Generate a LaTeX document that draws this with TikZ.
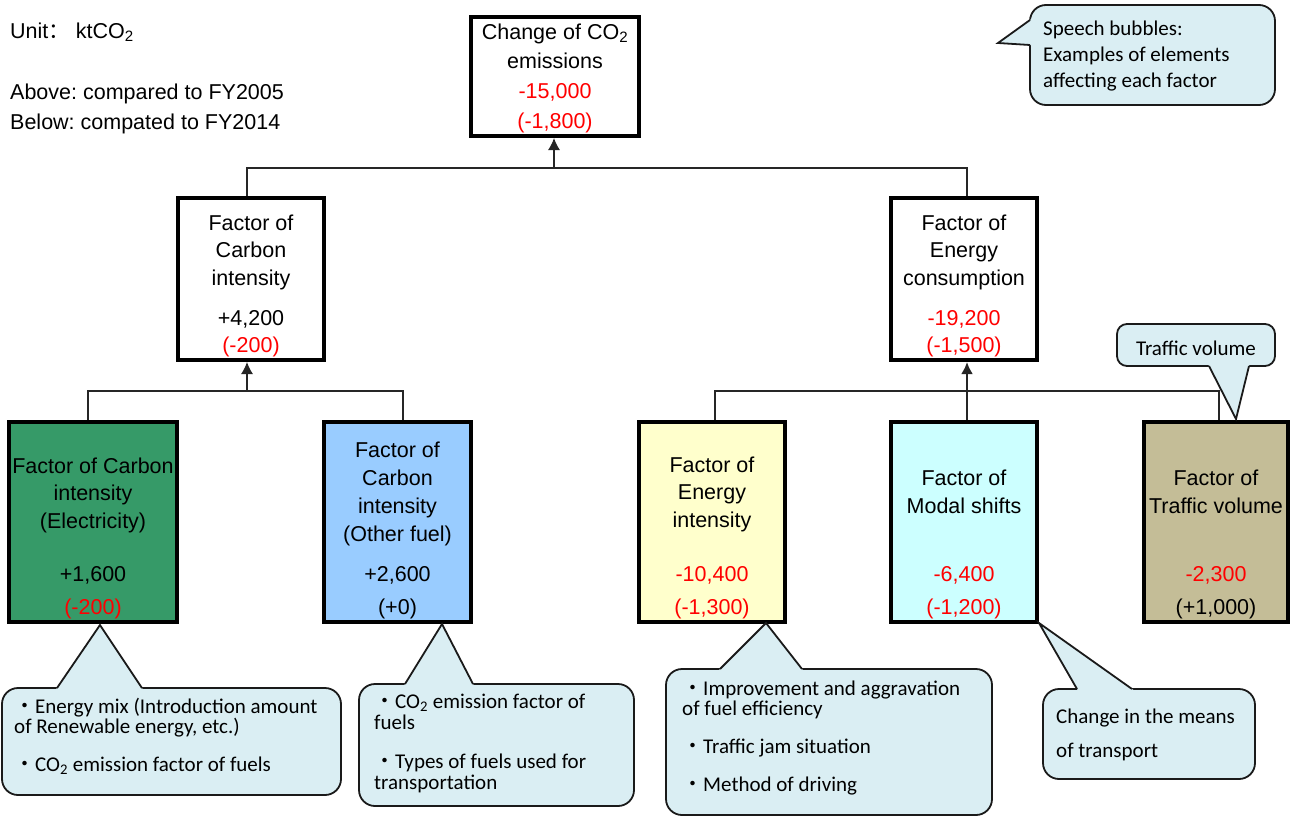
\documentclass[tikz,border=0pt]{standalone}
\usepackage{fontspec}
\setmainfont{Liberation Sans}
\newfontfamily\bub{Carlito}
\newfontfamily\cjk{Noto Sans CJK SC}
\usetikzlibrary{arrows.meta,calc}
\definecolor{cgreen}{HTML}{369A68}
\definecolor{cblue}{HTML}{99CCFF}
\definecolor{cyellow}{HTML}{FFFFCC}
\definecolor{ccyan}{HTML}{CCFFFF}
\definecolor{ctan}{HTML}{C4BD97}
\definecolor{bfillc}{HTML}{DAEEF3}
\definecolor{blinec}{HTML}{1A1A1A}
\newcommand\dotj{{\cjk ・}}
\frenchspacing
\begin{document}
\begin{tikzpicture}[x=1pt,y=-1pt,
  fbox/.style={draw=black, line width=4pt, fill=white},
  ttxt/.style={align=center, inner sep=0pt, anchor=north},
  conn/.style={draw=black!85, line width=1.3pt},
  arr/.style={conn, -{Latex[length=12pt,width=12pt]}},
  bubble/.style={draw=blinec, line width=1.8pt, fill=bfillc, rounded corners=16pt},
  bfill/.style={fill=bfillc},
  bline/.style={draw=blinec, line width=1.8pt, line join=miter},
  btxt/.style={align=left, inner sep=0pt, anchor=north west},
  lbl/.style={anchor=base west, inner sep=0pt, font=\fontsize{21.5}{27.5}\selectfont}
]
\useasboundingbox (0,0) rectangle (1292,816);
\fill[white] (0,0) rectangle (1292,816);

% ---------- legend texts ----------
\node[lbl] (unit) at (10,38) {Unit{\cjk ：} ktCO\textsubscript{2}};
\node[lbl] (above) at (10,99) {Above: compared to FY2005};
\node[lbl] (below) at (10,129) {Below: compated to FY2014};

% ---------- boxes ----------
\node[fbox, minimum width=168pt, minimum height=119pt] (top) at (555,76.5) {};
\node[fbox, minimum width=146pt, minimum height=162pt] (ci) at (251,279) {};
\node[fbox, minimum width=146pt, minimum height=162pt] (ec) at (964,279) {};
\node[fbox, fill=cgreen, minimum width=168pt, minimum height=200pt] (el) at (93,522) {};
\node[fbox, fill=cblue, minimum width=147pt, minimum height=200pt] (of) at (397.5,522) {};
\node[fbox, fill=cyellow, minimum width=146pt, minimum height=200pt] (ei) at (712,522) {};
\node[fbox, fill=ccyan, minimum width=146pt, minimum height=200pt] (ms) at (964,522) {};
\node[fbox, fill=ctan, minimum width=144pt, minimum height=200pt] (tv) at (1216,522) {};

% ---------- box texts ----------
\node[ttxt, font=\fontsize{21.5}{29.7}\selectfont] (topt) at (555,22)
  {\rule{0pt}{17pt}Change of CO\textsubscript{2}\\emissions\\\textcolor{red}{-15,000}\\\textcolor{red}{(-1,800)}};
\node[ttxt, font=\fontsize{21.5}{27.5}\selectfont] (cit) at (251,213)
  {\rule{0pt}{17pt}Factor of\\Carbon\\intensity\\[12.5pt]+4,200\\\textcolor{red}{(-200)}};
\node[ttxt, font=\fontsize{21.5}{27.5}\selectfont] (ect) at (964,213)
  {\rule{0pt}{17pt}Factor of\\Energy\\consumption\\[12.5pt]\textcolor{red}{-19,200}\\\textcolor{red}{(-1,500)}};
\node[ttxt, font=\fontsize{21.5}{27.5}\selectfont] (elt) at (93,456)
  {\rule{0pt}{17pt}Factor of Carbon\\intensity\\(Electricity)\\[25.5pt]+1,600\\[5.5pt]\textcolor{red}{(-200)}};
\node[ttxt, font=\fontsize{21.5}{28}\selectfont] (oft) at (397.5,440)
  {\rule{0pt}{17pt}Factor of\\Carbon\\intensity\\(Other fuel)\\[12pt]+2,600\\[5pt](+0)};
\node[ttxt, font=\fontsize{21.5}{27.5}\selectfont] (eit) at (712,455)
  {\rule{0pt}{17pt}Factor of\\Energy\\intensity\\[26.5pt]\textcolor{red}{-10,400}\\[5.5pt]\textcolor{red}{(-1,300)}};
\node[ttxt, font=\fontsize{21.5}{28}\selectfont] (mst) at (964,468)
  {\rule{0pt}{17pt}Factor of\\Modal shifts\\[40pt]\textcolor{red}{-6,400}\\[5pt]\textcolor{red}{(-1,200)}};
\node[ttxt, font=\fontsize{21.5}{28}\selectfont] (tvt) at (1216,468)
  {\rule{0pt}{17pt}Factor of\\Traffic volume\\[40pt]\textcolor{red}{-2,300}\\[5pt](+1,000)};

% ---------- connectors ----------
\coordinate (h1) at (554,168);
\coordinate (h2) at (247,391);
\coordinate (h3) at (967,391);
\draw[conn] ([xshift=-4pt]ci.north) |- (h1) -| ([xshift=3pt]ec.north);
\draw[arr] (h1) -- (h1 |- top.south);
\draw[conn] ([xshift=-5pt]el.north) |- (h2) -| ([xshift=5.5pt]of.north);
\draw[arr] (h2) -- (h2 |- ci.south);
\draw[conn] ([xshift=3pt]ei.north) |- (h3) -| ([xshift=3pt]tv.north);
\draw[conn] ([xshift=3pt]ms.north) -- (h3);
\draw[arr, line width=2.6pt] (h3) -- (h3 |- ec.south);

% ---------- speech bubbles ----------
% legend bubble
\node[bubble] [minimum width=245pt, minimum height=100pt] (lgb) at (1152.5,55) {};
\coordinate (lgt) at (998,43); \coordinate (lg1) at (1030,20); \coordinate (lg2) at (1030,45);
\fill[bfill] ($(lgt)!1.08!(lg1)$) -- (lgt) -- ($(lgt)!1.08!(lg2)$) -- cycle;
\draw[bline] (lg1) -- (lgt) -- (lg2);
\node[btxt, font=\bub\fontsize{21}{26}\selectfont] (lgbt) at (1043,18)
  {\rule{0pt}{17pt}Speech bubbles:\\Examples of elements\\affecting each factor};

% traffic volume bubble
\node[bubble, rounded corners=10pt] [minimum width=158pt, minimum height=42pt] (tvb) at (1196,345) {};
\coordinate (tvbt) at (1236,419); \coordinate (tvb1) at (1209,366); \coordinate (tvb2) at (1249,366);
\fill[bfill] ($(tvbt)!1.08!(tvb1)$) -- (tvbt) -- ($(tvbt)!1.08!(tvb2)$) -- cycle;
\draw[bline] (tvb1) -- (tvbt) -- (tvb2);
\node[anchor=base, inner sep=0pt, font=\bub\fontsize{21}{26}\selectfont] (tvbx) at (1196,355) {Traffic volume};

% electricity bubble
\node[bubble] [minimum width=339pt, minimum height=107pt] (elb) at (171.5,741.5) {};
\coordinate (elbt) at (100,625); \coordinate (elb1) at (57,688); \coordinate (elb2) at (142,688);
\fill[bfill] ($(elbt)!1.06!(elb1)$) -- (elbt) -- ($(elbt)!1.06!(elb2)$) -- cycle;
\draw[bline] (elb1) -- (elbt) -- (elb2);
\node[btxt, font=\bub\fontsize{21}{20}\selectfont] (elbx) at (14,696)
  {\rule{0pt}{17pt}\dotj Energy mix (Introduction amount\\of Renewable energy, etc.)\\[18pt]\dotj CO\textsubscript{2} emission factor of fuels};

% other fuel bubble
\node[bubble] [minimum width=275pt, minimum height=122pt] (ofb) at (496.5,745) {};
\coordinate (ofbt) at (442,624); \coordinate (ofb1) at (405,684); \coordinate (ofb2) at (473,684);
\fill[bfill] ($(ofbt)!1.06!(ofb1)$) -- (ofbt) -- ($(ofbt)!1.06!(ofb2)$) -- cycle;
\draw[bline] (ofb1) -- (ofbt) -- (ofb2);
\node[btxt, font=\bub\fontsize{21}{21}\selectfont] (ofbx) at (374,691)
  {\rule{0pt}{17pt}\dotj CO\textsubscript{2} emission factor of\\fuels\\[18pt]\dotj Types of fuels used for\\transportation};

% energy intensity bubble
\node[bubble] [minimum width=326pt, minimum height=146pt] (eib) at (829,742) {};
\coordinate (eibt) at (766,623); \coordinate (eib1) at (720,669); \coordinate (eib2) at (802,669);
\fill[bfill] ($(eibt)!1.06!(eib1)$) -- (eibt) -- ($(eibt)!1.06!(eib2)$) -- cycle;
\draw[bline] (eib1) -- (eibt) -- (eib2);
\node[btxt, font=\bub\fontsize{21}{20}\selectfont] (eibx) at (682,678)
  {\rule{0pt}{17pt}\dotj Improvement and aggravation\\of fuel efficiency\\[18pt]\dotj Traffic jam situation\\[18pt]\dotj Method of driving};

% modal shift bubble
\node[bubble] [minimum width=212pt, minimum height=90pt] (msb) at (1149,734) {};
\coordinate (msbt) at (1039,623); \coordinate (msb1) at (1077,689); \coordinate (msb2) at (1132,689);
\fill[bfill] ($(msbt)!1.06!(msb1)$) -- (msbt) -- ($(msbt)!1.06!(msb2)$) -- cycle;
\draw[bline] (msb1) -- (msbt) -- (msb2);
\node[btxt, font=\bub\fontsize{21}{34}\selectfont] (msbx) at (1056,706)
  {\rule{0pt}{17pt}Change in the means\\of transport};
\end{tikzpicture}
\end{document}
